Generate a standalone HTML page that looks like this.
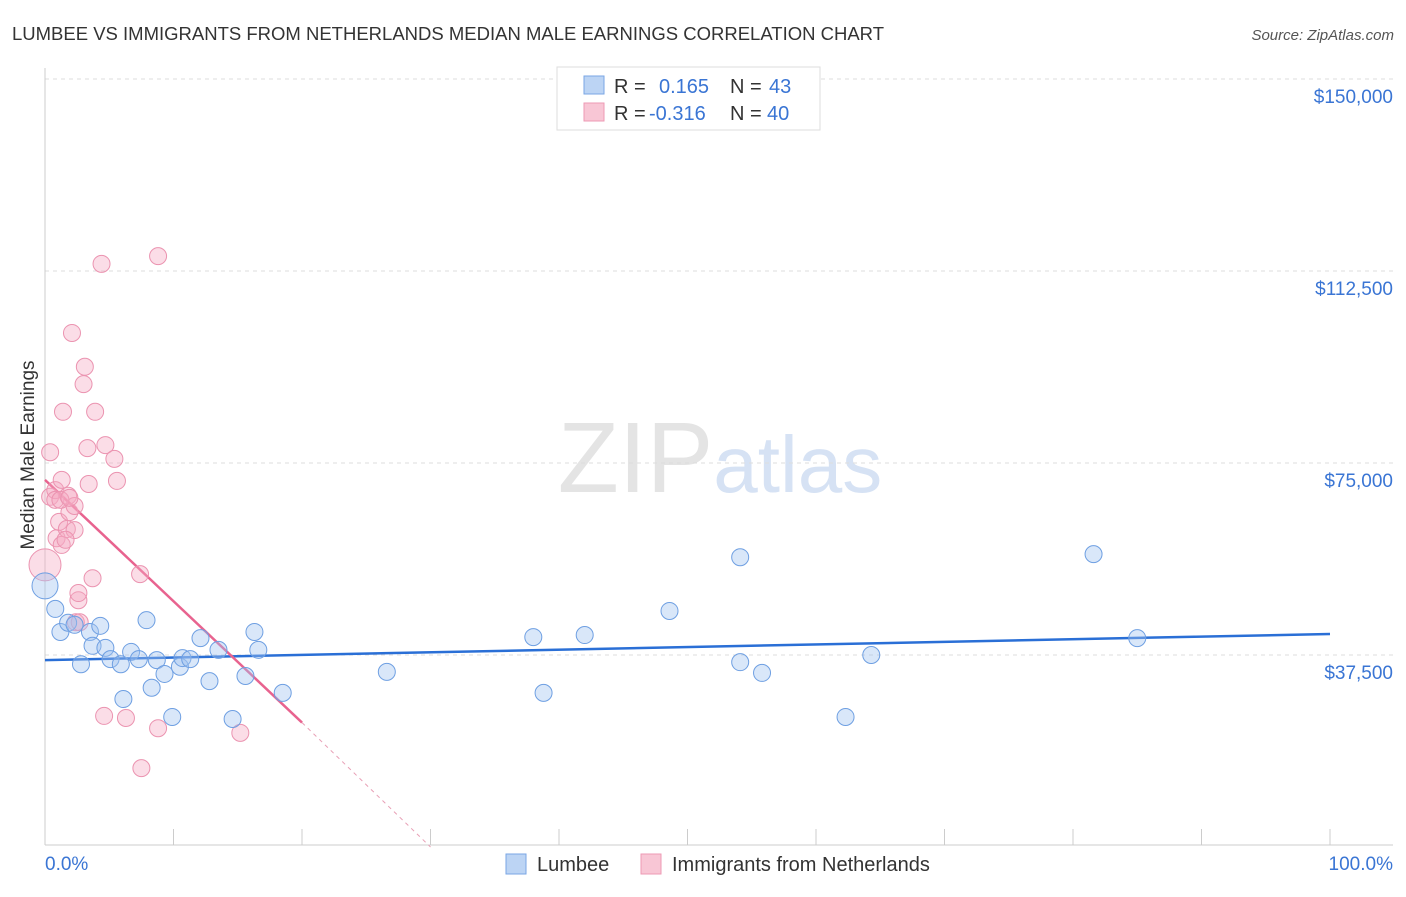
<!DOCTYPE html>
<html><head><meta charset="utf-8"><style>
body{margin:0;background:#fff;font-family:"Liberation Sans",sans-serif;}
svg text{font-family:"Liberation Sans",sans-serif;}
</style></head><body>
<svg id="chart" width="1406" height="892">
<text x="12" y="40" font-size="18.5" fill="#333">LUMBEE VS IMMIGRANTS FROM NETHERLANDS MEDIAN MALE EARNINGS CORRELATION CHART</text>
<text x="1394" y="40" font-size="15" fill="#555" font-style="italic" text-anchor="end">Source: ZipAtlas.com</text>
<text x="720" y="492" font-size="100" fill="#e4e4e4" text-anchor="middle" font-family="Liberation Serif">ZIP<tspan fill="#d6e2f4" font-family="Liberation Sans" font-size="80">atlas</tspan></text>
<text transform="translate(34,455) rotate(-90)" font-size="19" fill="#333" text-anchor="middle">Median Male Earnings</text>
<g id="grid"></g><g id="axes"></g><g id="trend"></g><g id="pts"></g>
<g>
<rect x="557" y="67" width="263" height="63" fill="#fff" stroke="#ddd"/>
<rect x="584" y="76" width="20" height="18" fill="#bcd4f4" stroke="#7aa6e4"/>
<rect x="584" y="103" width="20" height="18" fill="#f8c6d5" stroke="#ee9ab4"/>
<text x="614" y="93" font-size="20" fill="#333">R = </text><text x="659" y="93" font-size="20" fill="#3a75d4">0.165</text>
<text x="730" y="93" font-size="20" fill="#333">N = </text><text x="769" y="93" font-size="20" fill="#3a75d4">43</text>
<text x="614" y="120" font-size="20" fill="#333">R = </text><text x="649" y="120" font-size="20" fill="#3a75d4">-0.316</text>
<text x="730" y="120" font-size="20" fill="#333">N = </text><text x="767" y="120" font-size="20" fill="#3a75d4">40</text>
</g>
<g>
<rect x="506" y="854" width="20" height="20" fill="#bcd4f4" stroke="#7aa6e4"/>
<text x="537" y="871" font-size="20" fill="#333">Lumbee</text>
<rect x="641" y="854" width="20" height="20" fill="#f8c6d5" stroke="#ee9ab4"/>
<text x="672" y="871" font-size="20" fill="#333">Immigrants from Netherlands</text>
</g>
<text x="45" y="870" font-size="19" fill="#3a75d4">0.0%</text>
<text x="1393" y="870" font-size="19" fill="#3a75d4" text-anchor="end">100.0%</text>
</svg>
<script>
const yTicks=[37500,75000,112500,150000];
const yTickLabels=["$37,500","$75,000","$112,500","$150,000"];
const blueX=[0,0.8,1.2,1.8,2.3,2.8,3.5,3.7,4.3,4.7,5.1,5.9,6.1,6.7,7.3,7.9,8.3,8.7,9.3,9.9,10.5,10.7,11.3,12.1,12.8,13.5,14.6,15.6,16.3,16.6,18.5,26.6,38.0,38.8,42.0,48.6,54.1,54.1,55.8,62.3,64.3,81.6,85.0];
const blueY=[51.0,46.5,42.0,43.8,43.4,35.7,42.0,39.3,43.2,38.9,36.7,35.7,28.9,38.1,36.7,44.3,31.1,36.5,33.8,25.4,35.2,36.9,36.7,40.8,32.4,38.5,25.0,33.4,42.0,38.5,30.1,34.2,41.0,30.1,41.4,46.1,56.6,36.1,34.0,25.4,37.5,57.2,40.8];
const pinkX=[0,0.4,0.4,0.8,0.8,0.9,1.1,1.3,1.4,1.7,1.8,1.9,2.1,2.3,2.3,2.4,2.6,2.6,2.7,3.0,3.1,3.3,3.4,3.7,3.9,4.4,4.6,4.7,5.4,5.6,6.3,7.4,7.5,8.8,8.8,15.2,1.3,1.2,1.9,1.6];
const pinkY=[55.1,77.1,68.4,69.7,67.8,60.3,63.5,59.0,85.0,62.1,68.6,65.4,100.4,61.9,66.6,43.9,48.2,49.6,43.9,90.4,93.8,77.9,70.9,52.5,85.0,113.9,25.6,78.5,75.8,71.5,25.2,53.3,15.4,115.4,23.2,22.3,71.7,67.8,68.2,60.0];
const blueTrend=[[0,36.5],[100,41.6]];
const pinkTrend=[[0,71.7],[20,24.3]];
const pinkDash=[[20,24.3],[30,0]];
const NS="http://www.w3.org/2000/svg";
const X=p=>45+p*12.85;
const Y=k=>847-k*1000/37500*192;
function mk(t,a,parent){const e=document.createElementNS(NS,t);for(const k in a)e.setAttribute(k,a[k]);parent.appendChild(e);return e;}
const grid=document.getElementById('grid'),axes=document.getElementById('axes');
yTicks.forEach((v,i)=>{
 const l=mk('line',{x1:45,x2:1393,y1:Y(v/1000),y2:Y(v/1000),stroke:'#ddd','stroke-dasharray':'4,4'},grid);
 
 
 const t=mk('text',{x:1393,y:Y(v/1000)+24,'font-size':19,fill:'#3a75d4','text-anchor':'end'},axes);
 t.textContent=yTickLabels[i];
 
 
});
mk('line',{x1:45,x2:45,y1:68,y2:845,stroke:'#ccc'},axes);
mk('line',{x1:45,x2:1393,y1:845,y2:845,stroke:'#ccc'},axes);
for(let i=0;i<=10;i++){const t=mk('line',{x1:X(i*10),x2:X(i*10),y1:829,y2:845,stroke:'#ccc'},axes);
 
 }
const tr=document.getElementById('trend');
const bl=mk('line',{x1:X(blueTrend[0][0]),y1:Y(blueTrend[0][1]),x2:X(blueTrend[1][0]),y2:Y(blueTrend[1][1]),stroke:'#2a6fd6','stroke-width':2.5},tr);


const pd=mk('line',{x1:X(pinkDash[0][0]),y1:Y(pinkDash[0][1]),x2:X(pinkDash[1][0]),y2:Y(pinkDash[1][1]),stroke:'#e8a0b6','stroke-width':1,'stroke-dasharray':'4,4'},tr);


const pl=mk('line',{x1:X(pinkTrend[0][0]),y1:Y(pinkTrend[0][1]),x2:X(pinkTrend[1][0]),y2:Y(pinkTrend[1][1]),stroke:'#e8638f','stroke-width':2.5},tr);


const pts=document.getElementById('pts');
pinkX.forEach((x,i)=>{const c=mk('circle',{cx:X(x),cy:Y(pinkY[i]),r:i==0?16:8.5,fill:'rgba(244,170,195,0.4)',stroke:'#eb93b0','stroke-width':1},pts);
 
 });
blueX.forEach((x,i)=>{const c=mk('circle',{cx:X(x),cy:Y(blueY[i]),r:i==0?13:8.5,fill:'rgba(160,195,240,0.4)',stroke:'#6e9fe2','stroke-width':1},pts);
 
 });
</script>
</body></html>
